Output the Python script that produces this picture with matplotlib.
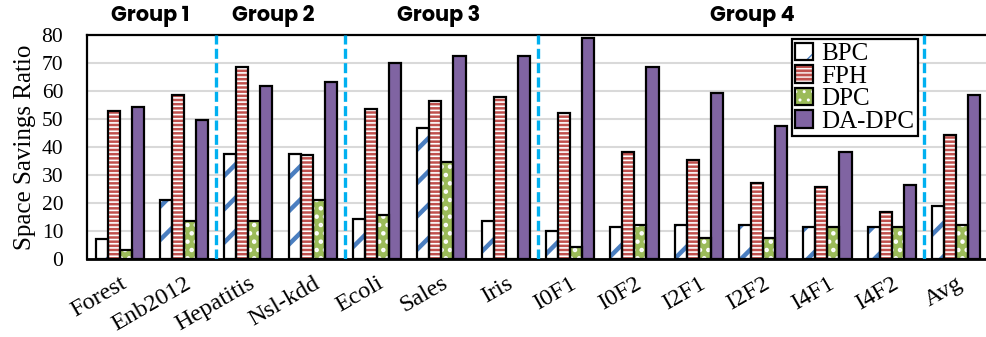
import numpy as np
import matplotlib.pyplot as plt
from matplotlib.legend_handler import HandlerTuple
from matplotlib.transforms import blended_transform_factory

# data sets and measured space savings ratio (%)
datasets = ['Forest', 'Enb2012', 'Hepatitis', 'Nsl-kdd', 'Ecoli', 'Sales', 'Iris',
            'I0F1', 'I0F2', 'I2F1', 'I2F2', 'I4F1', 'I4F2', 'Avg']
bpc = [7, 21, 37.6, 37.6, 14.3, 46.8, 13.6, 9.9, 11.3, 12, 12, 11.3, 11.3, 18.9]
fph = [53, 58.7, 68.7, 37, 53.6, 56.5, 58, 52, 38.3, 35.4, 27.1, 25.6, 16.7, 44.4]
dpc = [3.2, 13.6, 13.6, 21, 15.7, 34.5, 0, 4.4, 12, 7.5, 7.5, 11.3, 11.3, 12]
dadpc = [54.2, 49.6, 61.8, 63.3, 70.1, 72.3, 72.3, 79, 68.6, 59.4, 47.5, 38.3, 26.4, 58.7]

groups = ['Group 1', 'Group 2', 'Group 3', 'Group 4']
group_x = [0.47, 2.38, 4.96, 9.84]
separators = [1.5, 3.5, 6.5, 12.5]

plt.rcParams['font.family'] = 'Liberation Serif'

# (values, label, face, hatch, hatch colour, hatch width)
series = [
    (bpc, 'BPC', 'white', '/', '#4A7EC0', 3.2),
    (fph, 'FPH', '#C0504D', '----', 'white', 1.2),
    (dpc, 'DPC', '#9BBB59', '..', 'white', 2.0),
    (dadpc, 'DA-DPC', '#8064A2', '', 'none', 1.0),
]

fig = plt.figure(figsize=(9.87, 3.37), dpi=100)
ax = fig.add_axes([0.088, 0.2315, 0.912, 0.665])

x = np.arange(len(datasets))
w = 0.1875
handles = []
for i, (vals, lab, face, hatch, hcol, hlw) in enumerate(series):
    pos = x + (i - 1.5) * w
    fill = ax.bar(pos, vals, w, color=face, edgecolor=hcol, hatch=hatch,
                  linewidth=0, zorder=2)
    edge = ax.bar(pos, vals, w, color='none', edgecolor='black',
                  linewidth=1.6, zorder=3)
    for p in fill.patches:
        p.set_hatch_linewidth(hlw)
    handles.append((fill.patches[0], edge.patches[0]))

for s in separators:
    ax.axvline(s, color='#00B0F0', lw=2.4, dashes=(3, 1.3), zorder=4)

ax.set_xlim(-0.51, 13.48)
ax.set_ylim(0, 80)
ax.set_yticks(range(0, 81, 10))
ax.yaxis.grid(True, color='#D9D9D9', lw=1.5, zorder=0)
ax.set_axisbelow(True)
ax.set_xticks(x)
ax.set_xticklabels(datasets, rotation=30, ha='right', rotation_mode='anchor', fontsize=17.5)
ax.tick_params(axis='both', length=0)
ax.tick_params(axis='y', labelsize=15.5, pad=17)
ax.tick_params(axis='x', pad=10)
ax.set_ylabel('Space Savings Ratio', fontsize=18, labelpad=4)

ax.spines['right'].set_visible(False)
for side in ['left', 'top']:
    ax.spines[side].set_linewidth(1.6)
ax.spines['bottom'].set_linewidth(2)

trans = blended_transform_factory(ax.transData, ax.transAxes)
for g, gx in zip(groups, group_x):
    ax.text(gx, 1.085, g, transform=trans, ha='center', va='center',
            fontsize=15, fontweight='bold', family='Poppins')

leg = ax.legend(handles, [s[1] for s in series],
                handler_map={tuple: HandlerTuple(ndivide=1)},
                loc='upper left', bbox_to_anchor=(0.783, 0.982), borderaxespad=0,
                fontsize=18, handlelength=0.7, handleheight=0.7,
                handletextpad=0.35, labelspacing=0.0, borderpad=0.15,
                fancybox=False, framealpha=1, edgecolor='black')
leg.get_frame().set_linewidth(1.6)
leg.set_zorder(5)

fig.savefig('out.png', dpi=100)
